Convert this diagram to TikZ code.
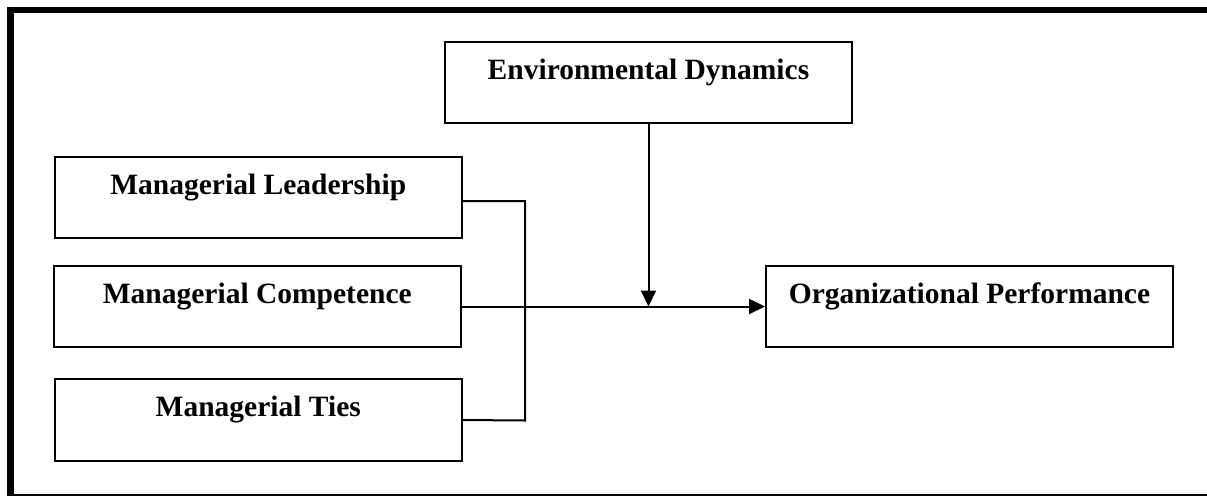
\documentclass[tikz,border=0pt]{standalone}
\usepackage{fontspec}
\setmainfont{Liberation Serif}
\usetikzlibrary{arrows.meta}
\tikzset{
  varbox/.style={draw=black, line width=2pt, rectangle, minimum width=407pt, minimum height=81.5pt,
    inner sep=0pt, font=\fontsize{29.5}{35}\selectfont\bfseries, text height=20pt, text depth=26.4pt},
  conn/.style={line width=2pt},
  arr/.style={conn, -{Triangle[length=16pt, width=15pt]}}
}
\begin{document}
\begin{tikzpicture}[x=1pt, y=-1pt]
\useasboundingbox (0,0) rectangle (1207,496);
% frame
\draw[line width=7pt] (10.5,7) -- (10.5,496);
\draw[line width=6pt] (7,10) -- (1207,10);
\draw[line width=2pt] (14,495) -- (1207,495);
% boxes
\node[varbox] (ed) at (648.5,82.4) {Environmental Dynamics};
\node[varbox] (lead) at (258.3,197.4) {Managerial Leadership};
\node[varbox] (comp) at (257.3,306.5) {Managerial Competence};
\node[varbox] (ties) at (258.3,420) {Managerial Ties};
\node[varbox] (org) at (969.5,306.5) {Organizational Performance};
% bracket
\coordinate (btop) at (525,201);
\coordinate (bbot) at (525,420.5);
\draw[conn] ([yshift=-3.6pt]lead.east) -- (btop) -- (bbot) -- (ties.east);
% main arrow
\draw[arr] (comp.east) -- (org.west);
% moderator arrow
\coordinate (j) at (ed.south |- org.west);
\draw[arr] (ed.south) -- (j);
\end{tikzpicture}
\end{document}
